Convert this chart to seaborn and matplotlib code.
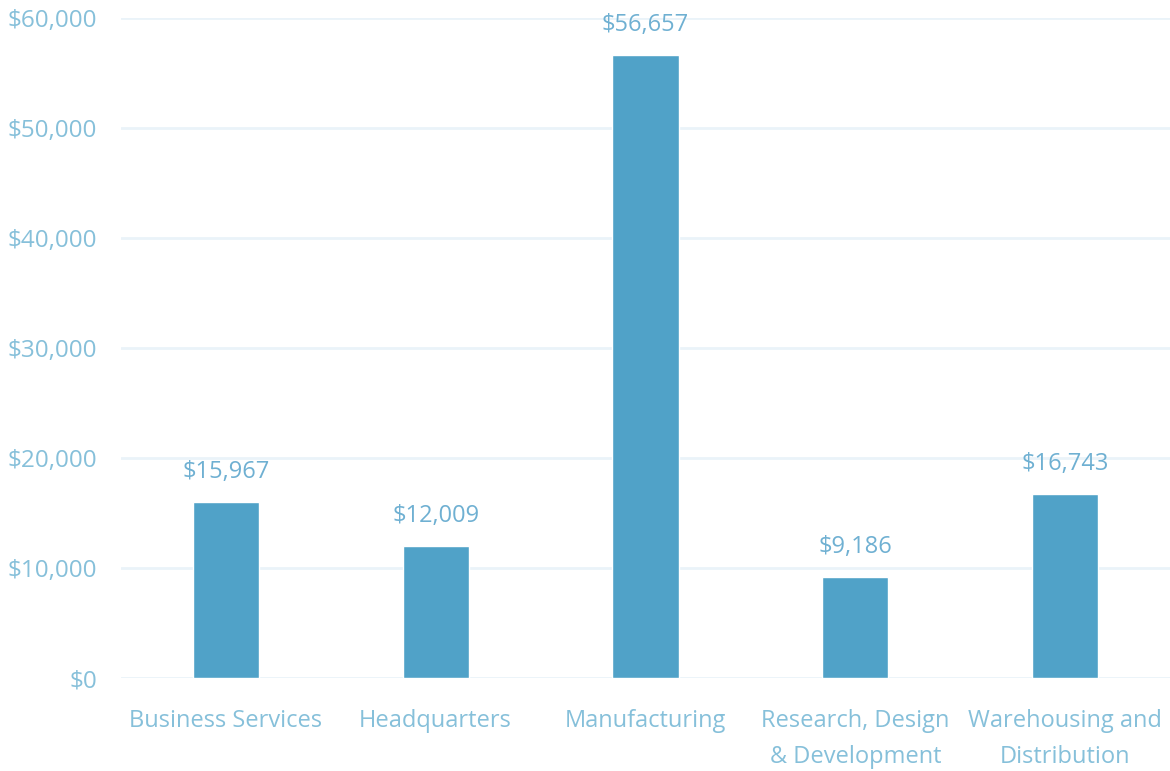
import matplotlib
matplotlib.use("Agg")
import matplotlib.pyplot as plt
import pandas as pd
import seaborn as sns

categories = ["Business Services", "Headquarters", "Manufacturing",
              "Research, Design\n& Development", "Warehousing and\nDistribution"]
values = [15967, 12009, 56657, 9186, 16743]
yticks = [0, 10000, 20000, 30000, 40000, 50000, 60000]

bar_color = "#50A2C8"
label_color = "#86C0DA"
value_color = "#6FB0D2"
grid_color = "#EAF3F9"

sns.set_theme(style="white")
plt.rcParams["font.family"] = ["Open Sans", "DejaVu Sans"]

df = pd.DataFrame({"category": categories, "value": values})

fig = plt.figure(figsize=(11.7, 7.71), dpi=100)
ax = fig.add_axes([0.1034, 0.1206, 0.8966, 0.8561])
sns.barplot(data=df, x="category", y="value", color=bar_color, width=0.315,
            saturation=1, ax=ax, zorder=3)

ax.set_ylim(0, 60000)
ax.set_xlim(-0.5, 4.5)
ax.set_yticks(yticks)
ax.set_yticklabels(["${:,}".format(t) for t in yticks])
ax.yaxis.grid(True, color=grid_color, linewidth=2, zorder=0)
ax.set_axisbelow(True)
sns.despine(ax=ax, left=True, bottom=True)
ax.tick_params(axis="y", length=0, pad=17, labelsize=17.5, labelcolor=label_color)
ax.tick_params(axis="x", length=0, pad=22, labelsize=17, labelcolor=label_color)
for lbl in ax.get_xticklabels():
    lbl.set_linespacing(1.7)
ax.set_xlabel("")
ax.set_ylabel("")

for i, v in enumerate(values):
    ax.annotate("${:,}".format(v), (i, v), xytext=(0, 13), textcoords="offset points",
                ha="center", va="bottom", fontsize=17, color=value_color)

fig.savefig("out.png", dpi=100)
